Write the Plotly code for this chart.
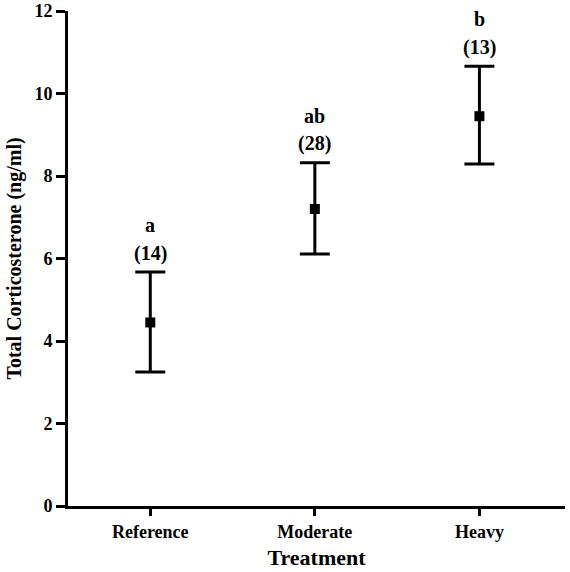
import plotly.graph_objects as go

categories = ["Reference", "Moderate", "Heavy"]
means = [4.45, 7.2, 9.45]
upper = [5.67, 8.32, 10.66]
lower = [3.25, 6.11, 8.29]
sample_sizes = ["(14)", "(28)", "(13)"]
letters = ["a", "ab", "b"]
y_ticks = [0, 2, 4, 6, 8, 10, 12]

err_plus = [u - m for u, m in zip(upper, means)]
err_minus = [m - l for m, l in zip(means, lower)]

FONT = "Liberation Serif"

fig = go.Figure()
fig.add_trace(go.Scatter(
    x=categories, y=means, mode="markers",
    marker=dict(symbol="square", size=10, color="black"),
    error_y=dict(type="data", symmetric=False, array=err_plus, arrayminus=err_minus,
                 color="black", thickness=3, width=15),
    showlegend=False,
))

for c, u, n, l in zip(categories, upper, sample_sizes, letters):
    fig.add_annotation(x=c, y=u, text=n, showarrow=False,
                       yshift=19, font=dict(family=FONT, size=20, color="black", weight="bold"))
    fig.add_annotation(x=c, y=u, text=l, showarrow=False,
                       yshift=47, font=dict(family=FONT, size=20, color="black", weight="bold"))

fig.update_layout(
    width=570, height=572,
    margin=dict(l=68, r=5, t=11, b=66, autoexpand=False),
    plot_bgcolor="white", paper_bgcolor="white",
    font=dict(family=FONT, color="black"),
    xaxis=dict(
        range=[-0.5, 2.52], showline=True, linecolor="black", linewidth=3,
        ticks="outside", ticklen=7, tickwidth=3, tickcolor="black",
        showgrid=False, zeroline=False, automargin=False,
        tickfont=dict(family=FONT, size=18, color="black", weight="bold"),
        title=dict(text="Treatment", font=dict(family=FONT, size=22, color="black", weight="bold"), standoff=10),
    ),
    yaxis=dict(
        range=[0, 12], tickvals=y_ticks, showline=True, linecolor="black", linewidth=3,
        ticks="outside", ticklen=9, tickwidth=3, tickcolor="black",
        showgrid=False, zeroline=False, automargin=False,
        tickfont=dict(family=FONT, size=18, color="black", weight="bold"),
        title=dict(text="Total Corticosterone (ng/ml)", font=dict(family=FONT, size=20, color="black", weight="bold"), standoff=8),
    ),
)

fig.write_html("out.html", config={"displayModeBar": False},
               post_script="document.body.style.margin='0px';")
